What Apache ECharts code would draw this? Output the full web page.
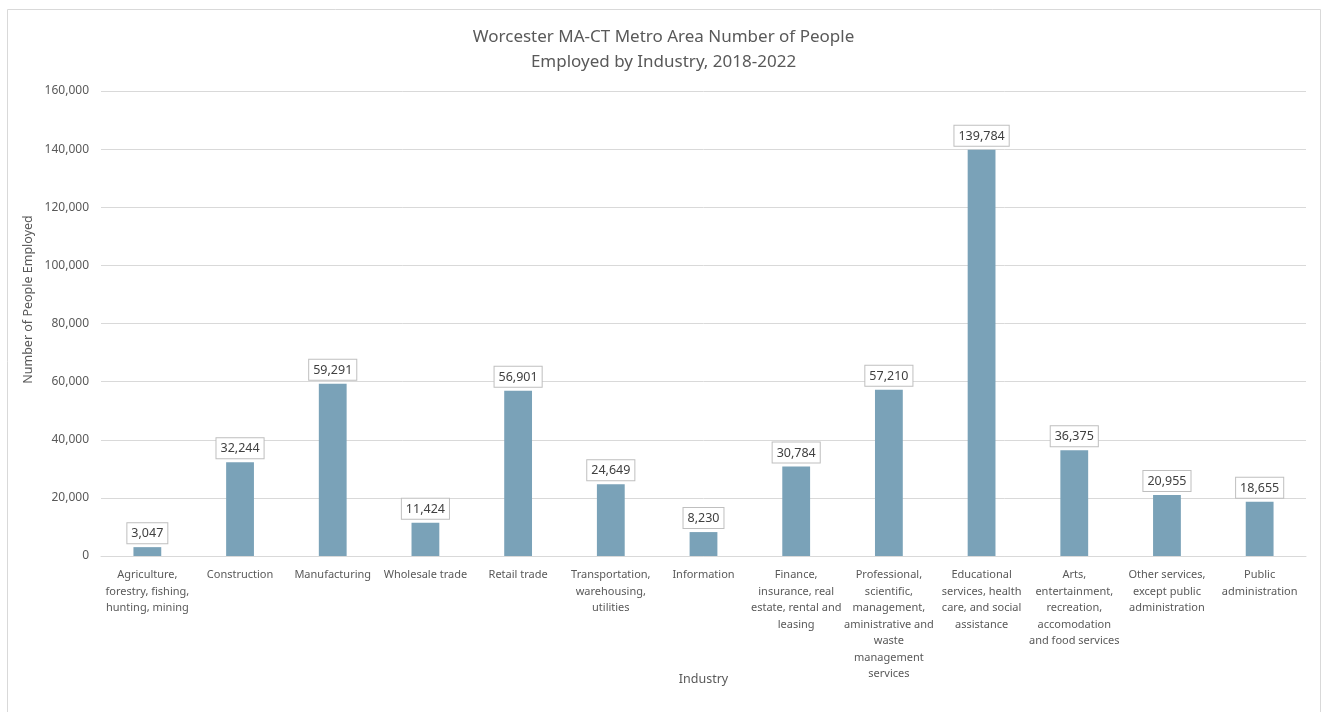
<!DOCTYPE html>
<html>
<head>
<meta charset="utf-8">
<script src="https://cdn.jsdelivr.net/npm/echarts@6/dist/echarts.min.js"></script>
<style>
  html, body { margin: 0; padding: 0; background: #fff; }
  #chart { width: 1327px; height: 712px; }
</style>
</head>
<body>
<div id="chart"></div>
<script>
const industries = [
  "Agriculture,\nforestry, fishing,\nhunting, mining",
  "Construction",
  "Manufacturing",
  "Wholesale trade",
  "Retail trade",
  "Transportation,\nwarehousing,\nutilities",
  "Information",
  "Finance,\ninsurance, real\nestate, rental and\nleasing",
  "Professional,\nscientific,\nmanagement,\naministrative and\nwaste\nmanagement\nservices",
  "Educational\nservices, health\ncare, and social\nassistance",
  "Arts,\nentertainment,\nrecreation,\naccomodation\nand food services",
  "Other services,\nexcept public\nadministration",
  "Public\nadministration"
];
const employed = [3047, 32244, 59291, 11424, 56901, 24649, 8230, 30784, 57210, 139784, 36375, 20955, 18655];

const font = "Noto Sans";
const chart = echarts.init(document.getElementById("chart"));
chart.setOption({
  animation: false,
  textStyle: { fontFamily: font },
  title: {
    text: "Worcester MA-CT Metro Area Number of People\nEmployed by Industry, 2018-2022",
    left: "center",
    top: 20,
    textStyle: { fontFamily: font, fontSize: 17, fontWeight: "normal", color: "#595959", lineHeight: 25 }
  },
  graphic: [{
    type: "rect",
    shape: { x: 7.5, y: 9.5, width: 1313, height: 720 },
    style: { fill: "none", stroke: "#d9d9d9", lineWidth: 1 },
    silent: true
  }],
  grid: { left: 101, right: 21, top: 91, bottom: 156 },
  xAxis: {
    type: "category",
    data: industries,
    name: "Industry",
    nameLocation: "middle",
    nameGap: 117,
    nameMoveOverlap: false,
    nameTextStyle: { fontSize: 12.5, color: "#595959" },
    axisLine: { lineStyle: { color: "#d9d9d9" } },
    axisTick: { show: false },
    axisLabel: { interval: 0, fontSize: 11, lineHeight: 16.5, color: "#595959", margin: 11 }
  },
  yAxis: {
    type: "value",
    min: 0,
    max: 160000,
    interval: 20000,
    name: "Number of People Employed",
    nameLocation: "middle",
    nameGap: 66,
    nameMoveOverlap: false,
    nameTextStyle: { fontSize: 12.5, color: "#595959", padding: [0, 0, 0, 48] },
    axisLine: { show: false },
    axisTick: { show: false },
    splitLine: { lineStyle: { color: "#d9d9d9" } },
    axisLabel: {
      fontSize: 12, color: "#595959", margin: 12,
      formatter: v => v.toLocaleString("en-US")
    }
  },
  series: [{
    type: "bar",
    data: employed,
    barWidth: "30%",
    itemStyle: { color: "#7aa2b8" },
    label: {
      show: true,
      position: "top",
      distance: 4,
      fontSize: 12.5,
      color: "#404040",
      backgroundColor: "#fff",
      borderColor: "#bfbfbf",
      borderWidth: 1,
      padding: [4, 4, 3, 4],
      formatter: p => p.value.toLocaleString("en-US")
    }
  }]
});
</script>
</body>
</html>
